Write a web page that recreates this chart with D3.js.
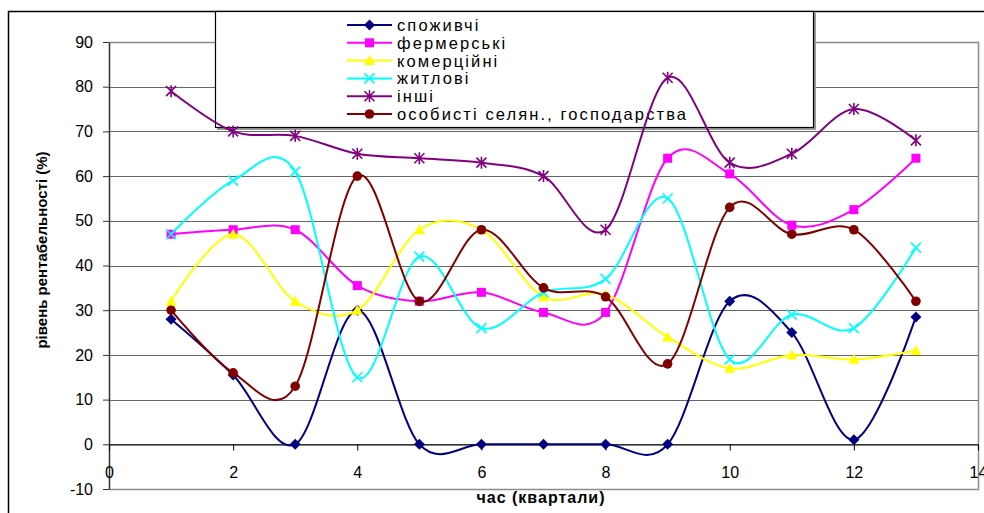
<!DOCTYPE html>
<html>
<head>
<meta charset="utf-8">
<script src="https://cdn.jsdelivr.net/npm/d3@7"></script>
<style>
  body { margin: 0; background: #fff; }
  svg { display: block; font-family: "Liberation Sans", Arial, sans-serif; }
</style>
</head>
<body>
<svg id="chart" width="984" height="513"></svg>
<script>
// DATA
var quarters = [1, 2, 3, 4, 5, 6, 7, 8, 9, 10, 11, 12, 13]
var spozhyvchi = [28, 15.5, 0, 30, 0, 0, 0, 0, 0, 32, 25, 1, 28.5]
var fermerski = [47, 48, 48, 35.5, 32, 34, 29.5, 29.5, 64, 60.5, 49, 52.5, 64]
var komertsiini = [32, 47, 32, 30, 48, 48, 33, 33.5, 24, 17, 20, 19, 21]
var zhytlovi = [47, 59, 61, 15, 42, 26, 34, 37, 55, 19, 29, 26, 44]
var inshi = [79, 70, 69, 65, 64, 63, 60, 48, 82, 63, 65, 75, 68]
var osobysti = [30, 16, 13, 60, 32, 48, 35, 33, 18, 53, 47, 48, 32]
var series_names = ["споживчі", "фермерські", "комерційні", "житлові", "інші", "особисті селян., господарства"]
var x_ticks = [0, 2, 4, 6, 8, 10, 12, 14]
var y_ticks = [-10, 0, 10, 20, 30, 40, 50, 60, 70, 80, 90]

var series = [
    {name: series_names[0], values: spozhyvchi, color: "#000080", marker: "diamond"},
    {name: series_names[1], values: fermerski, color: "#ff00ff", marker: "square"},
    {name: series_names[2], values: komertsiini, color: "#ffff00", marker: "triangle"},
    {name: series_names[3], values: zhytlovi, color: "#00ffff", marker: "cross"},
    {name: series_names[4], values: inshi, color: "#800080", marker: "star"},
    {name: series_names[5], values: osobysti, color: "#800000", marker: "circle"}
]

var svg = d3.select("#chart")

// outer chart frame (right/bottom fall outside the picture)
svg.append("rect")
    .attr("x", 8.5).attr("y", 11.5)
    .attr("width", 1000).attr("height", 600)
    .attr("fill", "#fff")
    .attr("stroke", "#000")
    .attr("stroke-width", 1.5)

const x = d3.scaleLinear().domain([0, 14]).range([109, 978])
const y = d3.scaleLinear().domain([-10, 90]).range([489, 42])

// gridlines
svg.append("g")
  .selectAll("line")
  .data(y_ticks.filter(d => d > -10))
  .join("line")
    .attr("x1", x(0)).attr("x2", x(14))
    .attr("y1", d => Math.round(y(d)) + 0.5)
    .attr("y2", d => Math.round(y(d)) + 0.5)
    .attr("stroke", "#666")
    .attr("stroke-width", 1)

// plot area border (top, right, bottom)
svg.append("path")
    .attr("d", `M${x(0)},${Math.round(y(90)) + 0.5}H${x(14) + 0.5}V${Math.round(y(-10)) + 0.5}H${x(0)}`)
    .attr("fill", "none")
    .attr("stroke", "#8c8c8c")
    .attr("stroke-width", 1.5)

// y axis
var y_axis = svg.append("g")
    .attr("transform", `translate(${x(0)},0)`)
    .call(d3.axisLeft(y).tickValues(y_ticks).tickFormat(d => String(d))
        .tickSize(6).tickSizeOuter(0).tickPadding(10))
y_axis.select(".domain").attr("stroke", "#333").attr("stroke-width", 1.5)
y_axis.selectAll(".tick line").attr("stroke", "#333")
y_axis.selectAll(".tick text")
    .attr("font-size", 16)
    .attr("font-family", "Liberation Sans, Arial, sans-serif")
    .attr("fill", "#000")

// x axis crosses at 0
var x_axis = svg.append("g")
    .attr("transform", `translate(0,${Math.round(y(0)) + 0.5})`)
    .call(d3.axisBottom(x).tickValues(x_ticks).tickFormat(d => String(d))
        .tickSize(6).tickSizeOuter(0).tickPadding(16))
x_axis.select(".domain").attr("stroke", "#000").attr("stroke-width", 1.2)
x_axis.selectAll(".tick line").attr("stroke", "#000")
x_axis.selectAll(".tick text")
    .attr("font-size", 16)
    .attr("font-family", "Liberation Sans, Arial, sans-serif")
    .attr("fill", "#000")

// axis titles
svg.append("text")
    .attr("transform", "translate(47,250) rotate(-90)")
    .attr("text-anchor", "middle")
    .attr("font-size", 15)
    .attr("font-weight", "bold")
    .text("рівень рентабельності (%)")
svg.append("text")
    .attr("x", 541).attr("y", 503)
    .attr("text-anchor", "middle")
    .attr("font-size", 16)
    .attr("font-weight", "bold")
    .attr("letter-spacing", 1)
    .text("час (квартали)")

// markers
function draw_marker(g, type, color, cx, cy) {
    if (type == "diamond") {
        g.append("path").attr("d", `M${cx},${cy - 5.5}L${cx + 5.5},${cy}L${cx},${cy + 5.5}L${cx - 5.5},${cy}Z`)
            .attr("fill", color)
    } else if (type == "square") {
        g.append("rect").attr("x", cx - 4.5).attr("y", cy - 4.5).attr("width", 9).attr("height", 9)
            .attr("fill", color)
    } else if (type == "triangle") {
        g.append("path").attr("d", `M${cx},${cy - 5.5}L${cx + 5.5},${cy + 4.5}L${cx - 5.5},${cy + 4.5}Z`)
            .attr("fill", color)
    } else if (type == "cross") {
        g.append("path").attr("d", `M${cx - 5},${cy - 5}L${cx + 5},${cy + 5}M${cx - 5},${cy + 5}L${cx + 5},${cy - 5}`)
            .attr("stroke", color).attr("stroke-width", 1.6).attr("fill", "none")
    } else if (type == "star") {
        g.append("path").attr("d", `M${cx - 5},${cy - 5}L${cx + 5},${cy + 5}M${cx - 5},${cy + 5}L${cx + 5},${cy - 5}M${cx},${cy - 6}L${cx},${cy + 6}`)
            .attr("stroke", color).attr("stroke-width", 1.6).attr("fill", "none")
    } else {
        g.append("circle").attr("cx", cx).attr("cy", cy).attr("r", 4.8)
            .attr("fill", color)
    }
}

// legend box sits above the gridlines but under the series
var legend = svg.append("g")
legend.append("rect")
    .attr("x", 217).attr("y", 13).attr("width", 599).attr("height", 117)
    .attr("fill", "#999")
legend.append("rect")
    .attr("x", 215.5).attr("y", 11.5).attr("width", 598).attr("height", 116)
    .attr("fill", "#fff")
    .attr("stroke", "#000")
    .attr("stroke-width", 1.2)

series.forEach(function(s, i) {
    var ly = 25 + i * 17.8
    legend.append("line")
        .attr("x1", 347).attr("x2", 392)
        .attr("y1", ly).attr("y2", ly)
        .attr("stroke", s.color).attr("stroke-width", 2)
    draw_marker(legend, s.marker, s.color, 369.5, ly)
    legend.append("text")
        .attr("x", 397).attr("y", ly + 6)
        .attr("font-size", 16.5)
        .attr("letter-spacing", 2.1)
        .text(s.name)
})

// smoothed lines like the spreadsheet does
var line = d3.line()
    .curve(d3.curveCatmullRom.alpha(0))
    .x(function(d, i) { return x(quarters[i]) })
    .y(function(d) { return y(d) })

series.forEach(function(s) {
    var g = svg.append("g")
    g.append("path")
        .datum(s.values)
        .attr("fill", "none")
        .attr("stroke", s.color)
        .attr("stroke-width", 2)
        .attr("d", line)
    s.values.forEach(function(v, i) {
        draw_marker(g, s.marker, s.color, x(quarters[i]), y(v))
    })
})
</script>
</body>
</html>
